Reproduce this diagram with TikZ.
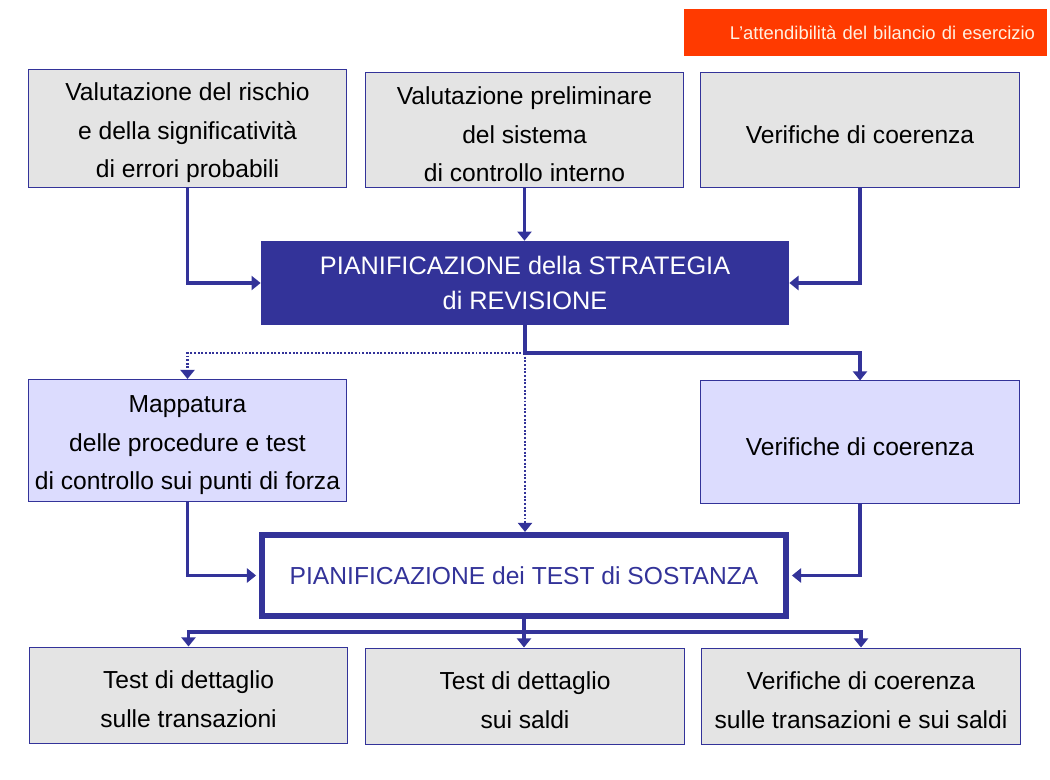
\documentclass[tikz,border=0pt]{standalone}
\usepackage{fontspec}
\setmainfont{Liberation Sans}
\usepackage{tikz}
\usetikzlibrary{arrows.meta}

\definecolor{revblue}{HTML}{333399}
\definecolor{boxgrey}{HTML}{E4E4E4}
\definecolor{boxlilac}{HTML}{DCDCFE}
\definecolor{titlered}{HTML}{FF3A00}

\newcommand{\boxfont}{\fontsize{17.5}{27.4}\selectfont}
% taller first line, so the text sits a little low in its box
\newcommand{\lift}{\rule{0pt}{19pt}}

\tikzset{
  greybox/.style={draw=revblue, line width=0.7pt, fill=boxgrey, inner xsep=2pt,
    minimum width=7.95cm, align=center, font=\boxfont},
  lilacbox/.style={greybox, fill=boxlilac, minimum height=3.05cm},
  flow/.style={draw=revblue, line width=2.2pt,
    -{Triangle[length=6.5pt,width=10pt]}},
  dotflow/.style={flow, line width=2pt, dash pattern=on 1.4pt off 1.2pt}
}

\begin{document}
\begin{tikzpicture}[x=0.025cm, y=-0.025cm]
        \useasboundingbox (0,0) rectangle (1050,780);

        % header
        \node [fill=titlered, text=white!88!orange, minimum width=9.075cm,
          minimum height=1.175cm, inner xsep=0.3cm, text width=8.475cm,
          align=right, font=\fontsize{13.1}{15}\selectfont]
          (header) at (865.5, 32.5) {L’attendibilità del bilancio di esercizio};

        % first row
        \node [greybox, minimum height=2.875cm] (rischio) at (187.5, 128.5)
          {\lift Valutazione del rischio\\ e della significatività\\ di errori probabili};
        \node [greybox, minimum height=2.85cm] (sistema) at (524.5, 130)
          {\lift Valutazione preliminare\\ del sistema\\ di controllo interno};
        \node [greybox, minimum height=2.85cm] (coerenza) at (860, 130)
          {\lift Verifiche di coerenza};

        % strategia
        \node [fill=revblue, text=white, minimum width=13.2cm, minimum height=2.1cm,
          align=center, font=\fontsize{18}{25.5}\selectfont]
          (strategia) at (525, 283)
          {PIANIFICAZIONE della STRATEGIA\\ di REVISIONE};

        % second row
        \node [lilacbox] (mappatura) at (187.5, 440.5)
          {\lift Mappatura\\ delle procedure e test\\ di controllo sui punti di forza};
        \node [lilacbox] (coerenzab) at (860, 442)
          {\lift Verifiche di coerenza};

        % test di sostanza
        \node [draw=revblue, line width=4.3pt, fill=white, text=revblue,
          minimum width=13.1cm, minimum height=2.025cm, font=\boxfont]
          (sostanza) at (524, 575.5)
          {PIANIFICAZIONE dei TEST di SOSTANZA};

        % third row
        \node [greybox, minimum height=2.4cm] (transazioni) at (188.5, 695)
          {\lift Test di dettaglio\\ sulle transazioni};
        \node [greybox, minimum height=2.4cm] (saldi) at (525, 696)
          {\lift Test di dettaglio\\ sui saldi};
        \node [greybox, minimum height=2.4cm] (coerenzac) at (861, 696)
          {\lift Verifiche di coerenza\\ sulle transazioni e sui saldi};

        % junctions
        \coordinate (split) at (525, 353);
        \coordinate (fork) at (524, 632);

        % into the strategy
        \draw [flow] (rischio.south) |- (strategia.west);
        \draw [flow] (sistema.south) -- (sistema.south |- strategia.north);
        \draw [flow] (coerenza.south) |- (strategia.east);

        % out of the strategy
        \draw [flow] (strategia.south) -- (split) -| (coerenzab.north);
        \draw [dotflow] (split) -| (mappatura.north);
        \draw [dotflow] (split) -- (split |- sostanza.north);

        % into the test planning
        \draw [flow, shorten >=2pt] (mappatura.south) |- (sostanza.west);
        \draw [flow, shorten >=2pt] (coerenzab.south) |- (sostanza.east);

        % out of the test planning
        \draw [draw=revblue, line width=2.2pt] (sostanza.south) -- (fork);
        \draw [flow] (fork) -| (transazioni.north);
        \draw [flow] (fork) -| (coerenzac.north);
        \draw [flow] (fork) -- (fork |- saldi.north);

\end{tikzpicture}
\end{document}
